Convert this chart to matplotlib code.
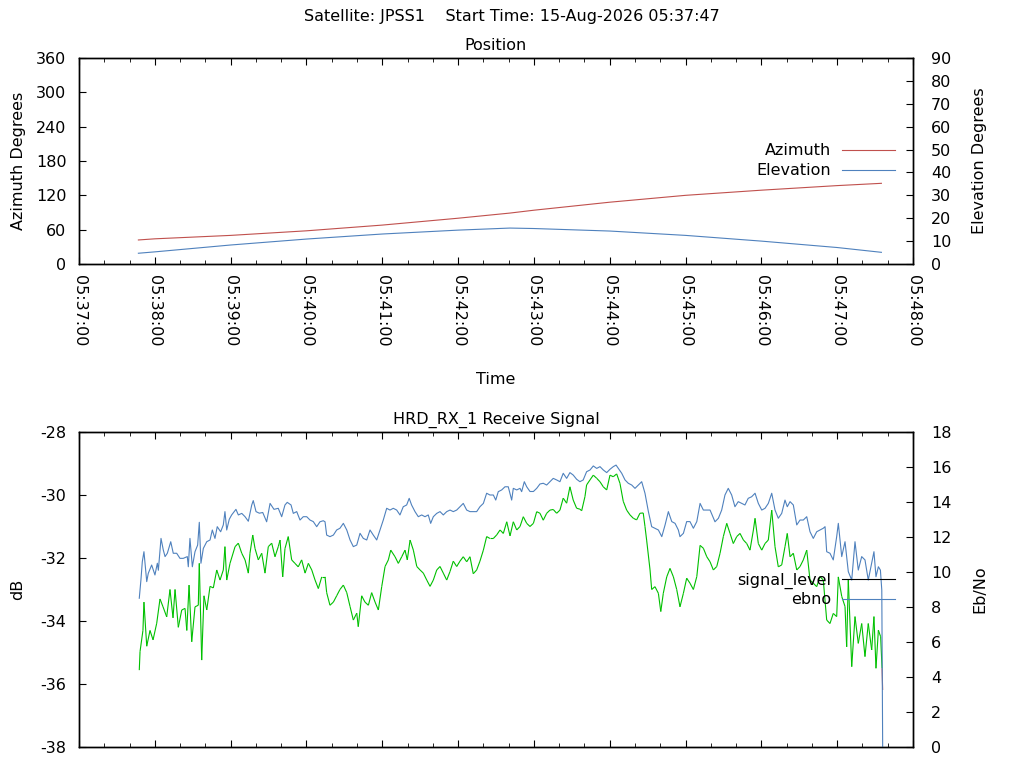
import datetime as dt
import matplotlib
matplotlib.use('Agg')
import matplotlib.pyplot as plt
import matplotlib.dates as mdates
from matplotlib.collections import LineCollection
from matplotlib.lines import Line2D
import numpy as np

plt.rcParams['font.family'] = 'DejaVu Sans'
plt.rcParams['font.size'] = 11.5
plt.rcParams['axes.unicode_minus'] = False

start = dt.datetime(2026, 8, 15, 5, 37, 0)

# ---- position (seconds after 05:37:00) ----
pos_t = [47, 60, 120, 180, 240, 300, 341, 360, 420, 480, 540, 600, 635]
azimuth = [42, 44, 50, 58, 68, 80, 89, 94, 108, 120, 129, 137, 141]
elevation = [4.7, 5.3, 8.3, 10.9, 13.1, 14.8, 15.7, 15.5, 14.4, 12.5, 10.0, 7.2, 5.1]

# ---- receive signal ----
sig_t = [47.7, 48.3, 50.6, 51.4, 53.6, 56.2, 58.6, 61.5, 64.1, 66.5,
         69.4, 72.0, 74.4, 76.0, 78.6, 81.3, 83.9, 85.3, 87.1, 89.2,
         91.8, 94.4, 95.2, 97.1, 98.9, 101.1, 103.7, 106.3, 109.0, 111.6,
         114.2, 115.5, 116.9, 119.5, 123.5, 126.1, 128.8, 131.4, 134.0, 135.3,
         137.5, 139.3, 141.9, 144.6, 147.2, 149.8, 152.5, 155.1, 157.7, 159.1,
         161.2, 163.0, 165.6, 168.3, 170.9, 173.5, 176.2, 178.9, 181.5, 184.2,
         186.8, 189.4, 192.1, 194.7, 196.0, 198.6, 201.3, 203.9, 206.5, 209.2,
         211.9, 214.5, 217.1, 219.8, 221.0, 223.7, 226.3, 229.0, 231.6, 234.3,
         236.9, 239.6, 242.2, 244.8, 246.7, 250.1, 252.7, 255.4, 258.0, 259.8,
         262.0, 264.6, 267.3, 269.9, 272.5, 275.2, 277.8, 280.4, 283.1, 285.7,
         288.3, 291.0, 293.6, 296.2, 298.9, 301.5, 304.1, 306.8, 309.4, 312.0,
         314.7, 317.3, 320.0, 322.6, 325.2, 327.9, 330.5, 333.2, 335.8, 338.5,
         341.1, 343.7, 346.4, 349.0, 351.6, 354.3, 356.9, 359.6, 362.2, 364.8,
         367.4, 370.1, 372.7, 375.3, 378.0, 380.6, 383.2, 385.9, 388.5, 391.1,
         393.8, 396.4, 397.8, 400.4, 401.7, 404.4, 407.0, 409.7, 412.3, 414.9,
         417.6, 420.2, 422.8, 425.5, 428.1, 430.7, 433.4, 436.0, 438.7, 441.3,
         443.9, 446.5, 447.9, 449.2, 451.9, 453.2, 455.8, 458.5, 460.4, 462.4,
         465.1, 467.7, 470.4, 473.0, 475.6, 478.3, 480.9, 483.5, 486.2, 488.9,
         491.5, 494.1, 496.8, 499.4, 502.0, 504.7, 507.3, 509.9, 512.6, 515.2,
         517.8, 520.5, 523.1, 525.8, 528.4, 531.0, 533.7, 535.0, 537.6, 540.3,
         542.9, 545.5, 548.2, 550.8, 553.4, 556.1, 558.7, 560.5, 562.7, 565.3,
         568.0, 570.6, 573.2, 575.9, 578.5, 581.1, 583.8, 586.4, 589.0, 591.7,
         594.3, 596.9, 599.6, 600.9, 603.6, 606.2, 607.5, 608.8, 611.5, 614.1,
         616.7, 619.4, 622.0, 624.6, 627.3, 629.1, 630.7, 632.6, 634.4, 635.5,
         636.0]
signal_level = [-35.56, -34.97, -34.30, -33.40, -34.80, -34.30, -34.60, -34.07, -33.30, -33.55,
                -33.87, -33.00, -33.90, -33.00, -34.20, -33.65, -33.60, -34.30, -32.86, -34.66,
                -33.55, -33.50, -32.17, -35.24, -33.20, -33.65, -32.90, -32.95, -32.38, -32.70,
                -32.38, -31.64, -32.70, -32.17, -31.64, -31.53, -31.85, -32.06, -32.48, -31.85,
                -31.27, -31.70, -32.06, -31.85, -32.48, -31.64, -31.53, -31.96, -31.64, -31.43,
                -32.60, -31.70, -31.32, -32.06, -32.17, -32.28, -32.06, -32.48, -32.17, -32.38,
                -32.70, -32.97, -32.60, -32.60, -33.10, -33.50, -33.40, -33.20, -33.00, -32.86,
                -33.10, -33.54, -33.97, -33.75, -34.18, -33.20, -33.40, -33.50, -33.10, -33.40,
                -33.65, -32.90, -32.27, -32.06, -31.75, -31.96, -32.17, -31.96, -31.75, -32.06,
                -31.43, -31.75, -32.27, -32.38, -32.48, -32.70, -32.90, -32.70, -32.38, -32.27,
                -32.48, -32.70, -32.43, -32.10, -32.27, -32.10, -31.96, -32.12, -31.96, -32.50,
                -32.38, -32.10, -31.75, -31.32, -31.38, -31.38, -31.27, -31.11, -31.22, -30.85,
                -31.30, -30.85, -31.11, -31.00, -30.69, -30.90, -31.00, -30.90, -30.53, -30.58,
                -30.80, -30.58, -30.48, -30.46, -30.58, -30.48, -30.10, -30.26, -29.74, -30.16,
                -30.42, -30.45, -30.50, -30.05, -29.68, -29.52, -29.37, -29.47, -29.58, -29.74,
                -29.84, -29.37, -29.42, -29.33, -29.63, -30.20, -30.48, -30.63, -30.74, -30.79,
                -30.58, -30.57, -31.00, -31.43, -32.38, -33.00, -32.91, -33.12, -33.70, -33.12,
                -32.60, -32.33, -32.60, -33.00, -33.55, -33.12, -32.64, -32.80, -33.00, -32.59,
                -31.60, -31.69, -31.96, -32.12, -32.38, -32.27, -31.85, -31.32, -30.90, -31.22,
                -31.54, -31.32, -31.22, -31.43, -31.54, -31.75, -31.11, -30.74, -31.54, -31.75,
                -31.54, -31.43, -30.48, -31.64, -32.28, -32.22, -31.64, -31.22, -31.96, -31.85,
                -32.38, -32.27, -32.06, -31.75, -32.70, -32.80, -32.91, -32.59, -32.70, -33.97,
                -34.08, -33.76, -33.86, -32.60, -33.22, -33.54, -34.82, -32.70, -35.45, -33.86,
                -34.71, -34.08, -35.13, -34.08, -34.92, -33.86, -35.50, -34.29, -34.50, -35.50,
                -36.19]

ebno_t = [47.7, 49.0, 50.1, 51.4, 52.8, 53.6, 54.8, 57.5, 60.1, 62.0,
          62.8, 64.9, 66.7, 68.1, 69.9, 72.6, 74.6, 77.3, 79.9, 82.5,
          85.7, 86.5, 87.8, 89.7, 91.8, 93.9, 95.2, 96.5, 98.4, 101.1,
          103.7, 105.5, 107.6, 109.4, 112.1, 114.2, 115.5, 116.9, 118.9, 120.8,
          124.2, 126.1, 128.8, 131.4, 134.0, 136.7, 137.9, 140.1, 142.7, 145.4,
          148.5, 151.2, 154.3, 157.7, 160.4, 163.0, 164.8, 167.8, 169.6, 172.3,
          174.9, 177.5, 180.2, 182.8, 185.4, 188.1, 190.7, 193.3, 194.7, 196.0,
          198.6, 201.3, 203.9, 206.5, 209.2, 211.9, 214.5, 217.1, 219.8, 222.4,
          225.0, 227.7, 230.3, 232.9, 235.6, 238.2, 240.8, 243.5, 246.1, 248.7,
          251.4, 254.0, 256.6, 259.3, 261.3, 263.2, 265.9, 268.5, 271.2, 273.8,
          276.4, 278.3, 280.4, 283.1, 285.7, 288.3, 291.0, 293.6, 296.2, 298.9,
          301.5, 304.1, 306.8, 309.4, 312.0, 314.7, 317.3, 320.0, 322.6, 325.2,
          327.9, 329.8, 331.8, 334.5, 337.1, 339.7, 342.4, 343.7, 346.4, 349.0,
          350.3, 352.4, 354.3, 356.9, 359.6, 362.2, 364.8, 367.4, 370.1, 372.7,
          375.3, 378.0, 380.6, 383.2, 385.9, 388.5, 391.1, 393.8, 396.4, 399.0,
          401.7, 404.4, 407.0, 409.7, 412.3, 414.9, 417.6, 420.2, 422.8, 425.0,
          426.8, 429.5, 432.1, 434.7, 437.4, 440.0, 442.6, 445.3, 447.9, 450.6,
          453.2, 455.8, 458.5, 461.2, 463.8, 466.4, 469.1, 471.7, 474.3, 475.6,
          478.3, 480.9, 483.5, 486.2, 488.9, 491.5, 494.1, 496.8, 499.4, 503.3,
          506.0, 508.6, 511.2, 513.8, 516.5, 519.1, 521.7, 524.4, 527.0, 529.6,
          532.3, 535.0, 537.6, 540.3, 542.9, 545.5, 548.2, 550.8, 553.4, 556.1,
          558.7, 560.5, 562.7, 565.3, 568.0, 570.6, 573.2, 575.9, 578.5, 581.1,
          583.8, 586.4, 589.0, 590.4, 591.7, 594.3, 596.9, 599.6, 600.9, 603.6,
          606.2, 608.8, 611.5, 614.1, 616.7, 619.4, 622.0, 624.6, 627.3, 629.1,
          630.7, 632.6, 634.2, 635.3, 636.0]
ebno = [8.50, 9.54, 10.59, 11.16, 10.11, 9.45, 9.92, 10.40, 9.83, 10.50,
        10.10, 11.92, 11.26, 10.88, 11.07, 11.73, 11.07, 11.07, 10.78, 10.78,
        10.88, 10.30, 11.92, 10.30, 11.16, 11.54, 12.84, 10.50, 11.35, 11.73,
        11.83, 12.40, 11.92, 12.59, 12.30, 12.69, 13.45, 12.40, 13.01, 13.26,
        13.58, 13.26, 13.35, 13.16, 12.90, 13.83, 14.08, 13.45, 13.36, 13.40,
        12.87, 13.92, 13.58, 13.64, 13.16, 13.83, 13.98, 13.83, 13.35, 13.45,
        12.97, 13.16, 13.16, 12.97, 12.88, 12.59, 12.87, 12.93, 12.87, 12.11,
        12.02, 12.11, 12.40, 12.50, 12.78, 12.40, 11.83, 11.45, 11.54, 12.21,
        11.92, 11.83, 12.40, 12.11, 11.83, 12.40, 12.97, 13.64, 13.54, 13.64,
        13.54, 13.26, 13.73, 13.83, 14.21, 13.83, 13.45, 13.16, 13.26, 13.16,
        13.26, 12.78, 13.16, 13.35, 13.45, 13.26, 13.45, 13.54, 13.45, 13.54,
        13.73, 13.92, 13.54, 13.45, 13.45, 13.45, 13.73, 13.92, 14.50, 14.40,
        14.40, 14.11, 14.59, 14.69, 14.87, 14.87, 14.11, 14.78, 14.69, 14.78,
        14.59, 15.16, 14.87, 14.60, 14.60, 14.78, 15.03, 15.07, 14.97, 15.16,
        15.35, 15.26, 15.16, 15.64, 15.35, 15.68, 15.54, 15.30, 15.16, 15.26,
        15.73, 15.83, 16.06, 15.92, 16.02, 15.83, 15.68, 15.87, 16.02, 16.11,
        15.92, 15.64, 15.26, 15.07, 14.97, 14.78, 14.97, 15.16, 14.50, 13.45,
        12.59, 12.50, 12.40, 12.02, 12.69, 13.45, 12.88, 12.78, 12.40, 12.02,
        12.21, 12.88, 12.88, 12.50, 12.88, 13.92, 13.54, 13.54, 13.54, 12.87,
        13.07, 13.54, 14.40, 14.78, 14.40, 13.73, 14.02, 13.92, 13.83, 14.21,
        14.30, 14.50, 13.92, 13.54, 13.64, 13.92, 14.50, 13.54, 13.07, 13.35,
        14.11, 13.73, 14.02, 13.83, 12.69, 12.97, 12.97, 13.16, 12.30, 11.92,
        12.30, 12.40, 12.50, 12.59, 11.16, 11.07, 10.69, 12.02, 12.78, 10.88,
        11.73, 10.02, 9.54, 11.73, 10.11, 10.88, 10.69, 9.54, 10.50, 11.16,
        9.73, 10.30, 10.11, 8.97, 0.00]

low_signal = -35.8   # segments reaching below this are drawn red

red = '#c0504d'
blue = '#4f81bd'
green = '#00c000'
lw = 0.8


def times(secs):
    return [start + dt.timedelta(seconds=s) for s in secs]


def style_axes(ax, ax2, labels=True):
    ax.set_xlim(start, start + dt.timedelta(minutes=11))
    ax.xaxis.set_major_locator(mdates.MinuteLocator())
    ax.xaxis.set_minor_locator(mdates.SecondLocator(bysecond=[20, 40]))
    ax.xaxis.set_major_formatter(mdates.DateFormatter('%H:%M:%S'))
    ax.tick_params(axis='x', which='both', direction='in', top=True,
                   labelbottom=labels, labelrotation=-90, pad=8)
    ax.tick_params(axis='x', which='major', length=5)
    ax.tick_params(axis='x', which='minor', length=3)
    ax.tick_params(axis='y', direction='in', length=5, right=False, pad=9)
    ax2.tick_params(axis='y', direction='in', length=5, pad=13)
    for lab in ax.get_xticklabels():
        lab.set_va('top')
        lab.set_ha('center')
    for a in (ax, ax2):
        for s in a.spines.values():
            s.set_linewidth(1.0)
    ax.yaxis.set_label_coords(-0.064, 0.5)
    ax2.yaxis.set_label_coords(1.071, 0.5)


fig = plt.figure(figsize=(10.24, 7.68), dpi=100)
fig.text(0.5, 1 - 17 / 768, 'Satellite: JPSS1    Start Time: 15-Aug-2026 05:37:47',
         ha='center', va='center')

# ---------------- Position ----------------
ax = fig.add_axes([79 / 1024, 1 - 264 / 768, 834 / 1024, 206 / 768])
ax2 = ax.twinx()
ax.plot(times(pos_t), azimuth, color=red, lw=lw)
ax2.plot(times(pos_t), elevation, color=blue, lw=lw)
ax.set_ylim(0, 360)
ax.set_yticks(range(0, 361, 60))
ax2.set_ylim(0, 90)
ax2.set_yticks(range(0, 91, 10))
ax.set_ylabel('Azimuth Degrees')
ax2.set_ylabel('Elevation Degrees')
ax.set_xlabel('Time')
ax.xaxis.set_label_coords(0.5, -0.522)
ax.text(0.5, 1 + 12 / 206, 'Position', transform=ax.transAxes, ha='center', va='center')
style_axes(ax, ax2)
h = [Line2D([], [], color=red, lw=lw), Line2D([], [], color=blue, lw=lw)]
ax2.legend(h, ['Azimuth', 'Elevation'], loc='upper right', bbox_to_anchor=(0.978, 0.585),
           frameon=False, markerfirst=False, handlelength=3.3, handletextpad=0.7,
           labelspacing=0.3, borderpad=0, borderaxespad=0)

# ---------------- Receive signal ----------------
bx = fig.add_axes([79 / 1024, 1 - 747 / 768, 834 / 1024, 315 / 768])
bx2 = bx.twinx()
xs = mdates.date2num(times(sig_t))
pts = np.column_stack([xs, signal_level])
segs = np.stack([pts[:-1], pts[1:]], axis=1)
seg_colors = [red if min(a[1], b[1]) < low_signal else green for a, b in segs]
bx.add_collection(LineCollection(segs, colors=seg_colors, linewidths=lw))
bx2.plot(times(ebno_t), ebno, color=blue, lw=lw)
bx.set_ylim(-38, -28)
bx.set_yticks(range(-38, -27, 2))
bx2.set_ylim(0, 18)
bx2.set_yticks(range(0, 19, 2))
bx.set_ylabel('dB')
bx2.set_ylabel('Eb/No')
bx.text(0.5, 1 + 12 / 315, 'HRD_RX_1 Receive Signal', transform=bx.transAxes,
        ha='center', va='center')
style_axes(bx, bx2, labels=False)
h = [Line2D([], [], color='black', lw=lw), Line2D([], [], color=blue, lw=lw)]
bx2.legend(h, ['signal_level', 'ebno'], loc='upper right', bbox_to_anchor=(0.978, 0.553),
           frameon=False, markerfirst=False, handlelength=3.3, handletextpad=0.7,
           labelspacing=0.2, borderpad=0, borderaxespad=0)

fig.savefig('out.png', dpi=100)
